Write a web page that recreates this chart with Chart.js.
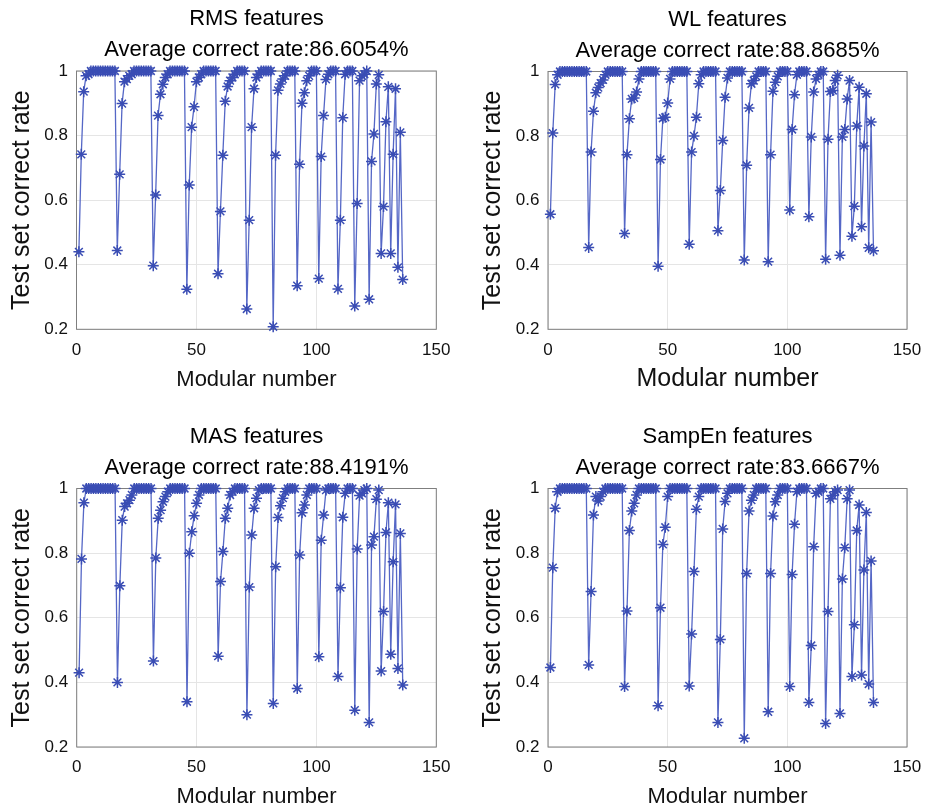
<!DOCTYPE html>
<html><head><meta charset="utf-8">
<script src="https://cdn.jsdelivr.net/npm/chart.js@4.4.1/dist/chart.umd.min.js"></script>
<style>
html,body{margin:0;padding:0;background:#fff;}
#wrap{position:relative;width:935px;height:811px;overflow:hidden;background:#fff;}
canvas{position:absolute;}
</style></head><body>
<div id="wrap">
<canvas id="c1" width="467" height="405" style="left:0px;top:0px"></canvas>
<canvas id="c2" width="468" height="405" style="left:467px;top:0px"></canvas>
<canvas id="c3" width="467" height="406" style="left:0px;top:405px"></canvas>
<canvas id="c4" width="468" height="406" style="left:467px;top:405px"></canvas>
</div>
<script>
const modularNumbers = [1,2,3,4,5,6,7,8,9,10,11,12,13,14,15,16,17,18,19,20,21,22,23,24,25,26,27,28,29,30,31,32,33,34,35,36,37,38,39,40,41,42,43,44,45,46,47,48,49,50,51,52,53,54,55,56,57,58,59,60,61,62,63,64,65,66,67,68,69,70,71,72,73,74,75,76,77,78,79,80,81,82,83,84,85,86,87,88,89,90,91,92,93,94,95,96,97,98,99,100,101,102,103,104,105,106,107,108,109,110,111,112,113,114,115,116,117,118,119,120,121,122,123,124,125,126,127,128,129,130,131,132,133,134,135,136];
const xTickValues = [0, 50, 100, 150];
const yTickValues = [0.2, 0.4, 0.6, 0.8, 1];
const yTickLabels = ['0.2', '0.4', '0.6', '0.8', '1'];
const panelTitles = ['RMS features', 'WL features', 'MAS features', 'SampEn features'];
const averageRates = ['86.6054%', '88.8685%', '88.4191%', '83.6667%'];
const xAxisTitle = 'Modular number';
const yAxisTitle = 'Test set correct rate';

const rmsRates = [
 0.44,0.742,0.936,0.985,0.99,1,1,1,1,1,1,1,1,1,1,1,
 0.444,0.68,0.899,0.967,0.975,0.985,0.99,1,1,1,1,1,1,1,1,
 0.397,0.616,0.862,0.928,0.959,0.98,0.99,1,1,1,1,1,1,1,
 0.324,0.647,0.826,0.889,0.967,0.98,0.99,1,1,1,1,1,1,
 0.372,0.565,0.739,0.906,0.952,0.97,0.98,0.99,1,1,1,1,
 0.263,0.538,0.826,0.945,0.98,0.99,1,1,1,1,1,
 0.208,0.739,0.94,0.96,0.975,0.985,1,1,1,1,
 0.335,0.711,0.9,0.933,0.97,0.985,1,1,1,
 0.357,0.735,0.862,0.974,0.99,1,1,1,
 0.325,0.538,0.855,0.99,1,1,1,
 0.272,0.59,0.97,0.985,0.99,1,
 0.293,0.72,0.805,0.96,0.988,
 0.435,0.58,0.843,0.951,
 0.435,0.742,0.945,
 0.392,0.81,
 0.354];

const wlRates = [
 0.557,0.809,0.96,0.99,1,1,1,1,1,1,1,1,1,1,1,1,
 0.454,0.75,0.877,0.934,0.95,0.964,0.974,0.99,1,1,1,1,1,1,1,
 0.497,0.742,0.853,0.915,0.918,0.936,0.977,1,1,1,1,1,1,1,
 0.396,0.727,0.855,0.858,0.902,0.977,1,1,1,1,1,1,1,
 0.464,0.75,0.8,0.858,0.962,0.99,1,1,1,1,1,1,
 0.506,0.631,0.786,0.92,0.98,1,1,1,1,1,1,
 0.415,0.709,0.887,0.962,0.972,0.985,1,1,1,1,
 0.41,0.742,0.939,0.967,0.985,1,1,1,1,
 0.57,0.82,0.928,0.99,1,1,1,1,
 0.549,0.797,0.936,0.977,0.99,1,1,
 0.417,0.79,0.938,0.941,0.972,0.988,
 0.43,0.797,0.82,0.915,0.972,
 0.489,0.582,0.831,0.951,
 0.518,0.769,0.931,
 0.453,0.843,
 0.444];

const masRates = [
 0.43,0.782,0.956,1,1,1,1,1,1,1,1,1,1,1,1,1,
 0.4,0.699,0.902,0.944,0.954,0.964,0.98,1,1,1,1,1,1,1,1,
 0.466,0.785,0.908,0.933,0.959,0.975,0.99,1,1,1,1,1,1,1,
 0.34,0.8,0.866,0.916,0.954,0.98,1,1,1,1,1,1,1,
 0.481,0.712,0.805,0.908,0.939,0.98,0.99,1,1,1,1,1,
 0.3,0.695,0.856,0.939,0.97,0.995,1,1,1,1,1,
 0.335,0.758,0.91,0.947,0.97,0.99,1,1,1,1,
 0.381,0.794,0.925,0.949,0.98,1,1,1,1,
 0.479,0.84,0.918,0.995,1,1,1,1,
 0.418,0.693,0.911,0.985,1,1,1,
 0.314,0.813,0.978,0.985,0.995,1,
 0.276,0.825,0.851,0.967,0.995,
 0.435,0.619,0.864,0.956,
 0.487,0.773,0.951,
 0.443,0.861,
 0.392];

const sampEnRates = [
 0.446,0.755,0.939,0.99,1,1,1,1,1,1,1,1,1,1,1,1,
 0.454,0.681,0.918,0.975,0.961,0.975,0.99,1,1,1,1,1,1,1,1,
 0.387,0.621,0.87,0.93,0.954,0.98,1,1,1,1,1,1,1,1,
 0.328,0.631,0.827,0.88,0.975,1,1,1,1,1,1,1,1,
 0.389,0.55,0.743,0.936,0.975,1,1,1,1,1,1,1,
 0.276,0.533,0.875,0.96,0.985,1,1,1,1,1,1,
 0.227,0.737,0.93,0.964,0.98,1,1,1,1,1,
 0.309,0.737,0.915,0.959,0.98,1,1,1,1,
 0.387,0.734,0.889,0.99,1,1,1,1,
 0.338,0.514,0.82,0.985,0.99,1,1,
 0.273,0.619,0.968,0.978,0.99,0.995,
 0.304,0.72,0.817,0.968,0.995,
 0.418,0.578,0.87,0.949,
 0.423,0.748,0.926,
 0.395,0.776,
 0.338];

const FONT = '"Liberation Sans", Arial, Helvetica, sans-serif';
const LINE_COLOR = '#5567c6';
const MARKER_COLOR = '#3a4db4';

const panels = [
  {id:'c1', w:467, h:405, rates:rmsRates,    ti:0, area:{l:76.5, t:71,   r:436.3, b:329.3}, yPad:7,    xSize:22, xPad:12.3},
  {id:'c2', w:468, h:405, rates:wlRates,     ti:1, area:{l:81,   t:71.5, r:440,   b:329.3}, yPad:11.5, xSize:25, xPad:10.5},
  {id:'c3', w:467, h:406, rates:masRates,    ti:2, area:{l:76.7, t:83.5, r:436.3, b:342},   yPad:7,    xSize:22, xPad:0.8},
  {id:'c4', w:468, h:406, rates:sampEnRates, ti:3, area:{l:81,   t:83.5, r:440,   b:342},   yPad:11.5, xSize:22, xPad:0.8}
];

const frameAndTitles = {
  id: 'frameAndTitles',
  beforeDatasetsDraw(chart, args, opts) {
    const {ctx, chartArea: a} = chart;
    ctx.save();
    ctx.strokeStyle = '#7f7f7f';
    ctx.lineWidth = 1;
    ctx.strokeRect(a.left, a.top, a.right - a.left, a.bottom - a.top);
    ctx.restore();
  },
  afterDraw(chart, args, opts) {
    const {ctx, chartArea: a} = chart;
    const cx = (a.left + a.right) / 2;
    ctx.save();
    ctx.fillStyle = '#000';
    ctx.font = '22px ' + FONT;
    ctx.textAlign = 'center';
    ctx.textBaseline = 'middle';
    ctx.fillText(opts.title, cx, a.top - 52);
    ctx.fillText('Average correct rate:' + opts.avg, cx, a.top - 20.7);
    ctx.restore();
  }
};

panels.forEach(p => {
  const a = p.area;
  new Chart(document.getElementById(p.id), {
    type: 'line',
    data: {
      labels: modularNumbers,
      datasets: [{
        data: p.rates,
        borderColor: LINE_COLOR,
        borderWidth: 1.3,
        tension: 0,
        fill: false,
        pointStyle: 'star',
        pointRadius: 5.5,
        pointBorderWidth: 1.5,
        pointBorderColor: MARKER_COLOR,
        pointBackgroundColor: MARKER_COLOR,
        clip: false
      }]
    },
    options: {
      responsive: false,
      animation: false,
      devicePixelRatio: 1,
      layout: { padding: { top: a.t, right: p.w - a.r, left: 0, bottom: 0 } },
      plugins: {
        legend: { display: false },
        tooltip: { enabled: false },
        title: { display: false },
        frameAndTitles: { title: panelTitles[p.ti], avg: averageRates[p.ti] }
      },
      scales: {
        x: {
          type: 'linear',
          min: 0, max: 150,
          afterBuildTicks: s => { s.ticks = xTickValues.map(v => ({value: v})); },
          afterFit: s => { s.height = p.h - a.b; },
          grid: { color: '#e5e5e5', drawTicks: false, lineWidth: 1 },
          border: { display: false },
          ticks: { color: '#111', font: { family: FONT, size: 17 }, padding: 10.5, maxRotation: 0, autoSkip: false,
                   callback: (v, i) => String(xTickValues[i]) },
          title: { display: true, text: xAxisTitle, color: '#111', font: { family: FONT, size: p.xSize },
                   padding: { top: 0, bottom: p.xPad } }
        },
        y: {
          type: 'linear',
          min: 0.2, max: 1,
          afterBuildTicks: s => { s.ticks = yTickValues.map(v => ({value: v})); },
          afterFit: s => { s.width = a.l; },
          grid: { color: '#e5e5e5', drawTicks: false, lineWidth: 1 },
          border: { display: false },
          ticks: { color: '#111', font: { family: FONT, size: 17 }, padding: 8.5, autoSkip: false,
                   callback: (v, i) => yTickLabels[i] },
          title: { display: true, text: yAxisTitle, color: '#111', font: { family: FONT, size: 25 },
                   padding: { top: p.yPad, bottom: 0 } }
        }
      }
    },
    plugins: [frameAndTitles]
  });
});
</script>
</body></html>
